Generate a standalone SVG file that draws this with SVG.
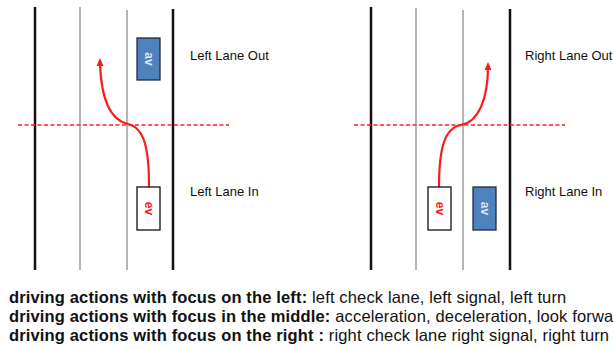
<svg xmlns="http://www.w3.org/2000/svg" width="614" height="349" viewBox="0 0 614 349">
<style>
.thick{stroke:#111;stroke-width:2.5;fill:none}
.thin{stroke:#8c8c8c;stroke-width:1.3;fill:none}
.dash{stroke:#ff2020;stroke-width:1.3;stroke-dasharray:4 2.5;fill:none}
.path{stroke:#ff1a1a;stroke-width:2.2;fill:none}
.avbox{fill:#4f81bd;stroke:#1f2d3d;stroke-width:1.3}
.evbox{fill:#fff;stroke:#111;stroke-width:1.3}
.avt{font-family:"Liberation Sans",Arial,sans-serif;font-weight:bold;font-size:12px;fill:#dce6f2}
.evt{font-family:"Liberation Sans",Arial,sans-serif;font-weight:bold;font-size:12px;fill:#ff1a1a}
.lbl{font-family:"Liberation Sans",Arial,sans-serif;font-size:13px;fill:#111}
.cap{font-family:"Liberation Sans",Arial,sans-serif;font-size:16.5px;letter-spacing:0.15px;fill:#111}
.b{font-weight:bold}
</style>
<defs>
<marker id="ah" markerWidth="8" markerHeight="8" refX="4" refY="4" orient="auto" markerUnits="userSpaceOnUse">
<path d="M0,0.5 L8,4 L0,7.5 Z" fill="#ff1a1a"/>
</marker>
</defs>
<g id="road-left">
<line class="thick" x1="35" y1="7" x2="35" y2="270"/>
<line class="thin" x1="80" y1="7" x2="80" y2="270"/>
<line class="thin" x1="127" y1="10" x2="127" y2="270"/>
<line class="thick" x1="173" y1="9" x2="173" y2="270"/>
</g>
<g id="road-right">
<line class="thick" x1="371" y1="7" x2="371" y2="270"/>
<line class="thin" x1="416" y1="8" x2="416" y2="270"/>
<line class="thin" x1="463" y1="10" x2="463" y2="270"/>
<line class="thick" x1="510" y1="9" x2="510" y2="270"/>
</g>
<g id="connectors">
<line class="dash" x1="18" y1="125" x2="229" y2="125"/>
<line class="dash" x1="354" y1="125" x2="565" y2="125"/>
<path class="path" d="M149,187 C149,150 145,128 128,124 C110,120 101,100 100,62" marker-end="url(#ah)"/>
<path class="path" d="M439,187 C439,150 444,128 461,125 C478,122 488,100 488,66" marker-end="url(#ah)"/>
</g>
<g id="av-left">
<rect class="avbox" x="137" y="38" width="23" height="42"/>
<text class="avt" transform="translate(148.5,59) rotate(90)" text-anchor="middle" dy="4">av</text>
</g>
<g id="ev-left">
<rect class="evbox" x="137" y="187" width="23" height="43"/>
<text class="evt" transform="translate(148.5,208.5) rotate(90)" text-anchor="middle" dy="4">ev</text>
</g>
<g id="ev-right">
<rect class="evbox" x="428" y="187" width="23" height="43"/>
<text class="evt" transform="translate(439.5,208.5) rotate(90)" text-anchor="middle" dy="4">ev</text>
</g>
<g id="av-right">
<rect class="avbox" x="473" y="187" width="23" height="43"/>
<text class="avt" transform="translate(484.5,208.5) rotate(90)" text-anchor="middle" dy="4">av</text>
</g>
<g id="labels">
<text class="lbl" x="190" y="60">Left Lane Out</text>
<text class="lbl" x="190" y="196">Left Lane In</text>
<text class="lbl" x="525" y="60">Right Lane Out</text>
<text class="lbl" x="525" y="196">Right Lane In</text>
</g>
<g id="caption">
<text class="cap" x="9" y="303"><tspan class="b">driving actions with focus on the left:</tspan> left check lane, left signal, left turn</text>
<text class="cap" x="9" y="322"><tspan class="b">driving actions with focus in the middle:</tspan> acceleration, deceleration, look forwa</text>
<text class="cap" x="9" y="341"><tspan class="b">driving actions with focus on the right :</tspan> right check lane right signal, right turn</text>
</g>
</svg>
